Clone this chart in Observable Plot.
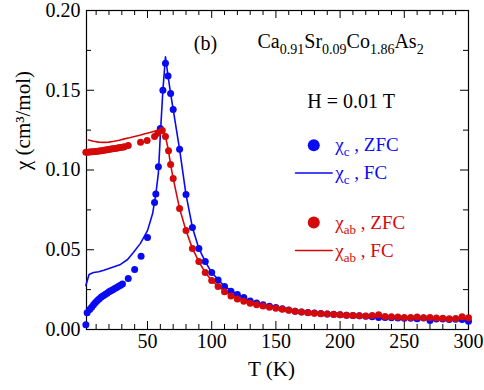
<!DOCTYPE html>
<html>
<head>
<meta charset="utf-8">
<script src="https://cdn.jsdelivr.net/npm/d3@7"></script>
<script src="https://cdn.jsdelivr.net/npm/@observablehq/plot@0.6"></script>
<style>
  body { margin: 0; background: white; }
  svg, svg text, svg tspan { font-family: "Liberation Serif", "Times New Roman", Times, serif !important; }
</style>
</head>
<body>
<script>
// ---- Data ----
// chi_c, ZFC (blue dots)
const T_c_zfc = [2, 3, 5, 6.5, 8, 9.5, 11, 12.5, 14, 15.5, 17, 18.5, 20, 21.5, 23, 24.5, 26, 27.5, 29, 30.5,
  35, 40, 45, 50, 55.5, 56.5, 58.5, 60, 62, 64, 66, 68, 70, 75, 80, 85, 90, 95, 100, 105, 110, 115, 120, 125,
  130, 135, 140, 145, 150, 155, 160, 165, 170, 175, 180, 185, 190, 195, 200, 205, 210, 215, 220, 225, 230,
  235, 240, 245, 250, 255, 260, 265, 270, 275, 280, 285, 290, 295, 300];
const chi_c_zfc = [0.003, 0.0105, 0.0125, 0.014, 0.0155, 0.017, 0.0182, 0.0193, 0.0203, 0.0212, 0.022, 0.0228, 0.0236, 0.0243, 0.025, 0.0257, 0.0264, 0.0271, 0.0278, 0.0286,
  0.032, 0.0376, 0.046, 0.0577, 0.0796, 0.085, 0.102, 0.126, 0.150, 0.167, 0.159, 0.148, 0.138, 0.113, 0.0846, 0.064, 0.0508, 0.0426, 0.0357, 0.031, 0.027, 0.024, 0.022, 0.020,
  0.0178, 0.0166, 0.0155, 0.0145, 0.0138, 0.013, 0.0122, 0.0115, 0.011, 0.0106, 0.0103, 0.0100, 0.0097, 0.0095, 0.0093, 0.009, 0.0088, 0.0086, 0.0083, 0.0080, 0.0075,
  0.0076, 0.0074, 0.0072, 0.0071, 0.0070, 0.0068, 0.0072, 0.0056, 0.0066, 0.0066, 0.0063, 0.0064, 0.0062, 0.0052];

// chi_c, FC (blue line)
const T_c_fc = [2, 4.5, 8, 12, 16, 20, 24, 29, 34.5, 39, 44.5, 50, 54, 56.5, 58.5, 60, 62, 64, 66, 68, 70, 75, 80, 85, 90, 95, 100, 110, 120, 130, 140, 150, 160, 170, 180, 200, 220, 240, 260, 280, 300];
const chi_c_fc = [0.0276, 0.0345, 0.0357, 0.0362, 0.0372, 0.0383, 0.0394, 0.0408, 0.0439, 0.0483, 0.054, 0.062, 0.0727, 0.085, 0.098, 0.122, 0.150, 0.171, 0.159, 0.148, 0.138, 0.113, 0.0846, 0.064, 0.0508, 0.0426, 0.0357, 0.027, 0.022, 0.0178, 0.0155, 0.0138, 0.0122, 0.011, 0.0103, 0.0093, 0.0083, 0.0074, 0.0069, 0.0066, 0.0062];

// chi_ab, ZFC (red dots)
const T_ab_zfc = [2, 3.5, 5, 6.5, 8, 9.5, 11, 12.5, 14, 15.5, 17, 18.5, 20, 21.5, 23, 24.5, 26, 27.5, 29, 30.5, 32,
  35, 44.6, 49.7, 55.5, 58, 61.5, 64, 66.4, 68, 70, 75, 80, 85, 90, 95, 100, 105, 110, 115, 120, 125, 130,
  135, 140, 145, 150, 155, 160, 165, 170, 175, 180, 185, 190, 195, 200, 205, 210, 215, 220, 225, 230,
  235, 240, 245, 250, 255, 260, 265, 270, 275, 280, 285, 290, 295, 300];
const chi_ab_zfc = [0.1112, 0.1112, 0.1113, 0.1114, 0.1115, 0.1116, 0.1118, 0.1119, 0.1121, 0.1123, 0.1125, 0.1127, 0.1129, 0.1131, 0.1133, 0.1135, 0.1137, 0.1139, 0.1141, 0.1143, 0.1145,
  0.1153, 0.1174, 0.1185, 0.121, 0.123, 0.1248, 0.121, 0.112, 0.1034, 0.0947, 0.0758, 0.062, 0.0508, 0.0426, 0.0357, 0.0307, 0.027, 0.0237, 0.021, 0.0192, 0.0177, 0.0164,
  0.0155, 0.0147, 0.014, 0.0133, 0.0127, 0.012, 0.0114, 0.0109, 0.0105, 0.0102, 0.0099, 0.0097, 0.0094, 0.0092, 0.009, 0.0088, 0.0086, 0.0085, 0.0088, 0.0092,
  0.0082, 0.0080, 0.0078, 0.0076, 0.0075, 0.0078, 0.0074, 0.0076, 0.0072, 0.0071, 0.0068, 0.0069, 0.0080, 0.0074];

// chi_ab, FC (red line)
const T_ab_fc = [4, 8, 12, 16, 20, 24, 28, 32, 36, 40, 44, 48, 52, 56, 60, 62, 64, 66.4, 68, 70, 75, 80, 85, 90, 95, 100, 105, 110, 115, 120, 125, 130, 140, 150, 160, 170, 180, 190, 200, 210, 220, 230, 240, 250, 260, 270, 280, 290, 300];
const chi_ab_fc = [0.1188, 0.1180, 0.1175, 0.1173, 0.1175, 0.1180, 0.1187, 0.1195, 0.1202, 0.121, 0.1218, 0.1227, 0.1235, 0.1245, 0.1255, 0.1258, 0.121, 0.112, 0.1034, 0.0947, 0.0758, 0.062, 0.0508, 0.0426, 0.0357, 0.0307, 0.0272, 0.024, 0.0215, 0.0195, 0.018, 0.0167, 0.0147, 0.0133, 0.0121, 0.0111, 0.0103, 0.0097, 0.0092, 0.0088, 0.0084, 0.0082, 0.0078, 0.0074, 0.0072, 0.0072, 0.0069, 0.0068, 0.0068];

// Tick values
const xTickLabels = [50, 100, 150, 200, 250, 300];
const xMinorTicks = [10, 20, 30, 40, 60, 70, 80, 90, 110, 120, 130, 140, 160, 170, 180, 190, 210, 220, 230, 240, 260, 270, 280, 290];
const xMajorTicks = [50, 100, 150, 200, 250];
const yTickLabels = [0, 0.05, 0.10, 0.15, 0.20];
const yMinorTicks = [0.025, 0.075, 0.125, 0.175];
const yMajorTicks = [0.05, 0.10, 0.15];

// Legend entries
const legendLabels = ["χ_{c} , ZFC", "χ_{c} , FC", "χ_{ab} , ZFC", "χ_{ab} , FC"];

// ---- Build tables ----
const zip = (T, v) => T.map((t, i) => ({T: t, chi: v[i]}));
const cZfc = zip(T_c_zfc, chi_c_zfc);
const cFc = zip(T_c_fc, chi_c_fc);
const abZfc = zip(T_ab_zfc, chi_ab_zfc);
const abFc = zip(T_ab_fc, chi_ab_fc);

const BLUE = "#0a0af2";
const RED = "#d40a0a";

const W = 484, H = 390, ML = 86, MR = 16, MT = 10, MB = 61;
const frameH = H - MT - MB, frameW = W - ML - MR;
const minor = 5, major = 8;

const legendX = 196.3, legendMarkX = 179.5;
const legendRows = [
  {label: legendLabels[0], y: 0.1155, color: BLUE, kind: "dot"},
  {label: legendLabels[1], y: 0.0981, color: BLUE, kind: "line"},
  {label: legendLabels[2], y: 0.0671, color: RED, kind: "dot"},
  {label: legendLabels[3], y: 0.0495, color: RED, kind: "line"}
];

const chart = Plot.plot({
  width: W, height: H,
  marginLeft: ML, marginRight: MR, marginTop: MT, marginBottom: MB,
  style: {fontSize: "20px", background: "white", color: "black"},
  x: {domain: [2.5, 300]},
  y: {domain: [0, 0.2]},
  marks: [
    // ticks (inward), bottom/top/left/right
    Plot.tickX(xMinorTicks, {x: d => d, insetTop: frameH - minor, stroke: "black", strokeWidth: 1}),
    Plot.tickX(xMajorTicks, {x: d => d, insetTop: frameH - major, stroke: "black", strokeWidth: 1}),
    Plot.tickX(xMinorTicks, {x: d => d, insetBottom: frameH - minor, stroke: "black", strokeWidth: 1}),
    Plot.tickX(xMajorTicks, {x: d => d, insetBottom: frameH - major, stroke: "black", strokeWidth: 1}),
    Plot.tickY(yMinorTicks, {y: d => d, insetRight: frameW - minor, stroke: "black", strokeWidth: 1}),
    Plot.tickY(yMajorTicks, {y: d => d, insetRight: frameW - major, stroke: "black", strokeWidth: 1}),
    Plot.tickY(yMinorTicks, {y: d => d, insetLeft: frameW - minor, stroke: "black", strokeWidth: 1}),
    Plot.tickY(yMajorTicks, {y: d => d, insetLeft: frameW - major, stroke: "black", strokeWidth: 1}),
    Plot.frame({stroke: "black", strokeWidth: 1.2}),
    Plot.axisX(xTickLabels, {tickSize: 0, tickPadding: 4, label: null, tickFormat: d => String(d), fontSize: 20}),
    Plot.axisY(yTickLabels, {tickSize: 0, tickPadding: 6, label: null, tickFormat: d => d.toFixed(2), fontSize: 20}),
    // axis titles
    Plot.text(["T (K)"], {text: d => d, frameAnchor: "bottom", dx: -6, dy: 46, fontSize: 21}),
    Plot.text(["χ (cm³/mol)"], {text: d => d, frameAnchor: "left", dx: -63, rotate: -90, fontSize: 21}),
    // data
    Plot.dot(cZfc, {x: "T", y: "chi", r: 3.5, fill: BLUE, stroke: "none"}),
    Plot.line(cFc, {x: "T", y: "chi", stroke: BLUE, strokeWidth: 1.6}),
    Plot.dot(abZfc, {x: "T", y: "chi", r: 3.5, fill: RED, stroke: "none"}),
    Plot.line(abFc, {x: "T", y: "chi", stroke: RED, strokeWidth: 1.6}),
    // annotations
    Plot.text(["(b)"], {x: 95.2, y: 0.1793, text: d => d, fontSize: 20}),
    Plot.text(["Ca_{0.91}Sr_{0.09}Co_{1.86}As_{2}"], {x: 135.7, y: 0.1805, text: d => d, textAnchor: "start", fontSize: 20}),
    Plot.text(["H = 0.01 T"], {x: 174.5, y: 0.1426, text: d => d, textAnchor: "start", fontSize: 20}),
    // legend
    Plot.dot(legendRows.filter(d => d.kind === "dot"), {x: legendMarkX, y: "y", r: 6, fill: "color", stroke: "none"}),
    ...legendRows.filter(d => d.kind === "line").map(d =>
      Plot.line([{T: 165.3, chi: d.y}, {T: 193.8, chi: d.y}], {x: "T", y: "chi", stroke: d.color, strokeWidth: 1.6})),
    Plot.text(legendRows, {x: legendX, y: "y", text: "label", fill: "color", textAnchor: "start", fontSize: 19})
  ]
});

// subscripts: turn "_{...}" into lowered, smaller tspans
chart.querySelectorAll("text").forEach(t => {
  const s = t.textContent;
  if (!s.includes("_{")) return;
  const parts = s.split(/(_\{[^}]*\})/);
  while (t.firstChild) t.removeChild(t.firstChild);
  let shifted = false;
  let size = parseFloat(t.getAttribute("font-size"));
  if (!size) { const g = t.closest("g"); size = parseFloat(g && g.getAttribute("font-size")) || 20; }
  const shift = Math.round(size * 0.28);
  for (const p of parts) {
    if (!p) continue;
    const ts = document.createElementNS("http://www.w3.org/2000/svg", "tspan");
    if (p.startsWith("_{")) {
      ts.textContent = p.slice(2, -1);
      ts.setAttribute("font-size", Math.round(size * 0.7));
      if (!shifted) ts.setAttribute("dy", shift);
      shifted = true;
    } else {
      ts.textContent = p;
      if (shifted) ts.setAttribute("dy", -shift);
      shifted = false;
    }
    t.appendChild(ts);
  }
});

document.body.appendChild(chart);
</script>
</body>
</html>
